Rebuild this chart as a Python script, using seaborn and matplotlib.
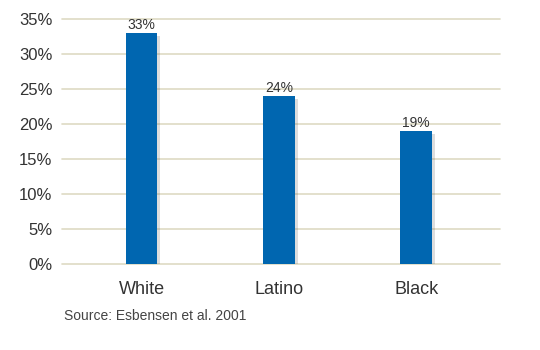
import matplotlib
matplotlib.use("Agg")
import matplotlib.pyplot as plt
import matplotlib.patheffects as pe
import seaborn as sns
import pandas as pd

categories = ["White", "Latino", "Black"]
values = [33, 24, 19]
value_labels = ["33%", "24%", "19%"]
yticks = [0, 5, 10, 15, 20, 25, 30, 35]
ytick_labels = ["0%", "5%", "10%", "15%", "20%", "25%", "30%", "35%"]
source = "Source: Esbensen et al. 2001"

sns.set_theme(style="white")
plt.rcParams["font.family"] = ["Liberation Sans", "DejaVu Sans"]

df = pd.DataFrame({"group": categories, "value": values})

fig = plt.figure(figsize=(5.4, 3.5), dpi=100)
ax = fig.add_axes([62/540, 1 - 264/350, (500-62)/540, (264-19)/350])

sns.barplot(data=df, x="group", y="value", color="#0066b0", saturation=1,
            width=0.23, ax=ax, zorder=3)
for p in ax.patches:
    p.set_edgecolor("none")
    p.set_path_effects([pe.SimplePatchShadow(offset=(2, -2), alpha=0.2, shadow_rgbFace="#555555"), pe.Normal()])

ax.set_xlim(-0.58, 2.61)
ax.set_ylim(0, 35)
ax.set_yticks(yticks)
ax.set_yticklabels(ytick_labels)
ax.yaxis.grid(True, color="#dedac3", linewidth=1.2, zorder=0)
for gl in ax.get_ygridlines():
    gl.set_clip_on(False)
ax.set_axisbelow(True)
for s in ax.spines.values():
    s.set_visible(False)
ax.set_xlabel("")
ax.set_ylabel("")
ax.tick_params(axis="y", length=0, pad=7, labelsize=12, labelcolor="#333333")
ax.tick_params(axis="x", length=0, pad=12, labelsize=13, labelcolor="#333333")

for i, (v, lab) in enumerate(zip(values, value_labels)):
    ax.text(i, v + 0.2, lab, ha="center", va="bottom", fontsize=10, color="#333333")

fig.text(64/540, 1 - 316/350, source, fontsize=10, color="#444444", ha="left", va="center")

fig.savefig("out.png", dpi=100)
